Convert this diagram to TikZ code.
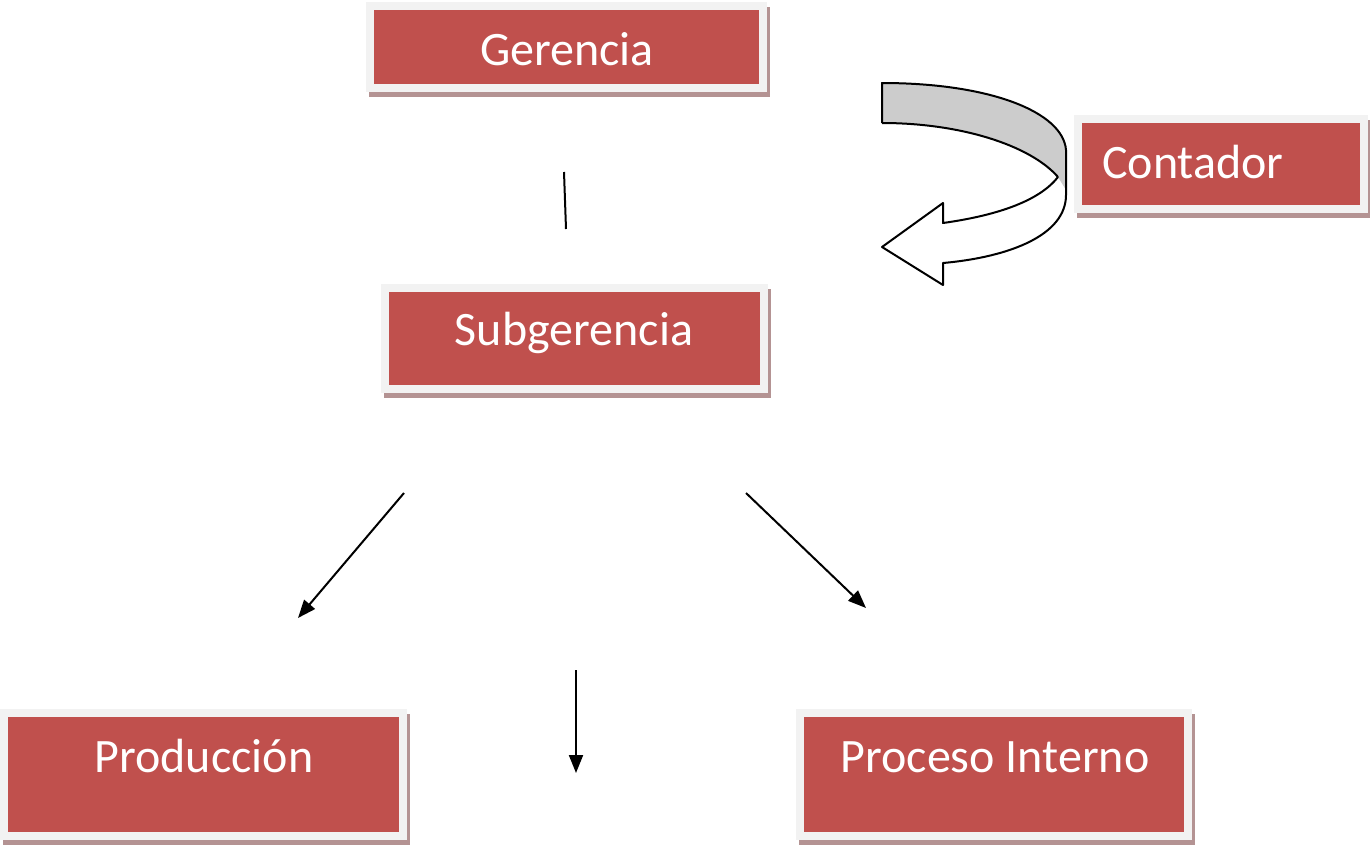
\documentclass[tikz,border=0pt]{standalone}
\usepackage{fontspec}
\setmainfont{Carlito}
\usetikzlibrary{arrows.meta}
\definecolor{boxred}{HTML}{C0504D}
\definecolor{boxframe}{HTML}{F2F2F2}
\definecolor{boxshadow}{HTML}{B49393}
\definecolor{ribbongray}{HTML}{CCCCCC}
\begin{document}
\begin{tikzpicture}[x=1pt,y=-1pt,
  orgbox/.style={rectangle, fill=boxred, draw=boxframe, line width=8pt, inner sep=0pt,
    preaction={fill=boxshadow, draw=boxshadow, line width=8pt, transform canvas={shift={(3pt,-5pt)}}}},
  lbl/.style={text=white, font=\fontsize{48}{57}\selectfont, inner sep=0pt, anchor=base},
  conn/.style={line width=2pt, -{Triangle[length=18pt,width=14pt]}},
  plain/.style={line width=2pt},
  ribbon/.style={line width=2pt, line join=round}]
\useasboundingbox[fill=white] (0,0) rectangle (1370,846);
% boxes
\node[orgbox, minimum width=393pt, minimum height=82pt] (ger) at (566.5,47) {};
\node[orgbox, minimum width=379pt, minimum height=101pt] (sub) at (574.5,338.5) {};
\node[orgbox, minimum width=286pt, minimum height=90pt] (con) at (1221,164) {};
\node[orgbox, minimum width=399pt, minimum height=123pt] (pro) at (203.5,774.5) {};
\node[orgbox, minimum width=388pt, minimum height=123pt] (pin) at (994,774.5) {};
% labels
\node[lbl] (gerT) at (567,65) {Gerencia};
\node[lbl] (subT) at (574,345) {Subgerencia};
\node[lbl, anchor=base west] (conT) at (1102,178) {Contador};
\node[lbl] (proT) at (204,772) {Producción};
\node[lbl] (pinT) at (995,772) {Proceso Interno};
% connectors
\coordinate (l0s) at (564,172); \coordinate (l0e) at (566,229);
\draw[plain] (l0s) -- (l0e);
\coordinate (a1s) at (404,493); \coordinate (a1e) at (298,618);
\draw[conn] (a1s) -- (a1e);
\coordinate (a2s) at (746,493); \coordinate (a2e) at (866,608);
\draw[conn] (a2s) -- (a2e);
\coordinate (a3s) at (576,670); \coordinate (a3e) at (576,773);
\draw[conn] (a3s) -- (a3e);
% curved ribbon arrow
\fill[ribbongray] (882,83) .. controls (990,83) and (1063,112) .. (1066,150) -- (1066,190) -- (1058,177) .. controls (1030,145) and (960,123) .. (882,123) -- cycle;
\draw[ribbon] (882,123) -- (882,83) .. controls (990,83) and (1063,112) .. (1066,150) -- (1066,195) .. controls (1066,235) and (1010,257) .. (943,263) -- (943,285) -- (882,247) -- (943,203) -- (943,223) .. controls (1000,215) and (1040,200) .. (1058,177);
\draw[ribbon] (882,123) .. controls (960,123) and (1030,145) .. (1058,177);
\end{tikzpicture}
\end{document}
